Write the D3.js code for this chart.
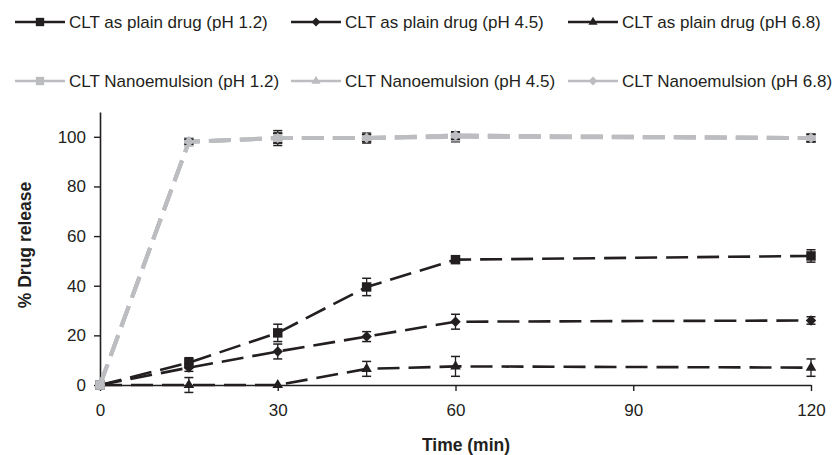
<!DOCTYPE html>
<html>
<head>
<meta charset="utf-8">
<script src="https://cdn.jsdelivr.net/npm/d3@7"></script>
<style>
  body { margin: 0; background: #fff; }
  text { font-family: "Liberation Sans", Arial, sans-serif; }
</style>
</head>
<body>
<svg id="fig" width="834" height="455"></svg>
<script>

var times = [0, 15, 30, 45, 60, 120];

var plain_12 = [0, 9, 21, 39.5, 50.5, 52];
var plain_12_err = [0, 2, 3.5, 3.5, 1, 2.5];
var plain_45 = [0, 7, 13.5, 19.5, 25.5, 26];
var plain_45_err = [0, 1.5, 3, 2, 3, 1.5];
var plain_68 = [0, 0, 0, 6.5, 7.5, 7];
var plain_68_err = [0, 3, 0, 3, 4, 3.5];

var nano_12 = [0, 98, 99.5, 99.5, 100, 99.5];
var nano_12_err = [0, 1.5, 3, 2, 2, 1.5];
var nano_45 = [0, 98, 99.5, 99.5, 100.5, 99.5];
var nano_45_err = [0, 1, 2, 1.5, 1.5, 1.5];
var nano_68 = [0, 98, 99.5, 99.5, 100.5, 99.5];
var nano_68_err = [0, 1, 2, 1.5, 1.5, 1.5];

var xticks = [0, 30, 60, 90, 120];
var yticks = [0, 20, 40, 60, 80, 100];

var series = [
    { name: "CLT as plain drug (pH 1.2)", v: plain_12, e: plain_12_err, color: "#231f20", sym: "square" },
    { name: "CLT as plain drug (pH 4.5)", v: plain_45, e: plain_45_err, color: "#231f20", sym: "diamond" },
    { name: "CLT as plain drug (pH 6.8)", v: plain_68, e: plain_68_err, color: "#231f20", sym: "triangle" },
    { name: "CLT Nanoemulsion (pH 1.2)", v: nano_12, e: nano_12_err, color: "#bcbdc0", sym: "square" },
    { name: "CLT Nanoemulsion (pH 4.5)", v: nano_45, e: nano_45_err, color: "#bcbdc0", sym: "triangle" },
    { name: "CLT Nanoemulsion (pH 6.8)", v: nano_68, e: nano_68_err, color: "#bcbdc0", sym: "diamond" }
];

var svg = d3.select("#fig");

var x = d3.scaleLinear().domain([0, 120]).range([100, 811]);
var y = d3.scaleLinear().domain([0, 110]).range([385, 112]);

function marker(sym, big){
    if( sym == "square" ) return d3.symbol().type(d3.symbolSquare).size(big ? 90 : 70)();
    if( sym == "diamond" ) return d3.symbol().type(d3.symbolDiamond2).size(big ? 70 : 50)();
    return d3.symbol().type(d3.symbolTriangle2).size(big ? 80 : 60)();
}

// axes
var xaxis = svg.append("g")
    .attr("transform", "translate(0,385)")
    .call(d3.axisBottom(x).tickValues(xticks).tickSize(6).tickSizeOuter(0).tickPadding(13));
var yaxis = svg.append("g")
    .attr("transform", "translate(100,0)")
    .call(d3.axisLeft(y).tickValues(yticks).tickSize(6).tickSizeOuter(0).tickPadding(8));

[xaxis, yaxis].forEach(function(a){
    a.select(".domain").attr("stroke", "#231f20").attr("stroke-width", 1.6);
    a.selectAll(".tick line").attr("stroke", "#231f20").attr("stroke-width", 1.4);
    a.selectAll(".tick text").style("font-size", "17px").attr("fill", "#231f20")
        .style("font-family", "Liberation Sans, Arial, sans-serif");
});

svg.append("text")
    .attr("x", 466).attr("y", 451)
    .attr("text-anchor", "middle")
    .style("font-size", "17.5px").style("font-weight", "bold").attr("fill", "#231f20")
    .text("Time (min)");

svg.append("text")
    .attr("transform", "translate(31,245) rotate(-90)")
    .attr("text-anchor", "middle")
    .style("font-size", "17.5px").style("font-weight", "bold").attr("fill", "#231f20")
    .text("% Drug release");

// lines (grey ones on top of black)
var line = d3.line()
    .x(function(d, i){ return x(times[i]); })
    .y(function(d){ return y(d); });

series.forEach(function(s, k){
    var grey = k >= 3;
    var g = svg.append("g");
    g.append("path")
        .datum(s.v)
        .attr("d", line)
        .attr("fill", "none")
        .attr("stroke", s.color)
        .attr("stroke-width", grey ? 4 : 2.6)
        .attr("stroke-dasharray", "22,9");

    // error bars
    s.v.forEach(function(v, i){
        if( s.e[i] <= 0 ) return;
        var cx = x(times[i]);
        var y1 = y(v + s.e[i]), y2 = y(v - s.e[i]);
        g.append("line").attr("x1", cx).attr("x2", cx).attr("y1", y1).attr("y2", y2)
            .attr("stroke", "#231f20").attr("stroke-width", 1.3);
        [y1, y2].forEach(function(yy){
            g.append("line").attr("x1", cx - 4.5).attr("x2", cx + 4.5).attr("y1", yy).attr("y2", yy)
                .attr("stroke", "#231f20").attr("stroke-width", 1.5);
        });
    });

    g.selectAll("path.mk")
        .data(s.v)
        .enter().append("path")
        .attr("class", "mk")
        .attr("d", marker(s.sym, true))
        .attr("transform", function(d, i){ return "translate(" + x(times[i]) + "," + y(d) + ")"; })
        .attr("fill", s.color);
});

// legend
var leg_x = [15, 291, 568];
var leg_y = [22, 81];
series.forEach(function(s, k){
    var lx = leg_x[k % 3], ly = leg_y[Math.floor(k / 3)];
    var lg = svg.append("g").attr("transform", "translate(" + lx + "," + ly + ")");
    lg.append("line").attr("x1", 0).attr("x2", 50).attr("y1", 0).attr("y2", 0)
        .attr("stroke", s.color).attr("stroke-width", 2.6);
    lg.append("path").attr("d", marker(s.sym, false))
        .attr("transform", "translate(25,0)")
        .attr("fill", s.color);
    lg.append("text")
        .attr("x", 54).attr("y", 0).attr("dy", ".35em")
        .style("font-size", "17px").attr("fill", "#231f20")
        .text(s.name);
});

</script>
</body>
</html>
